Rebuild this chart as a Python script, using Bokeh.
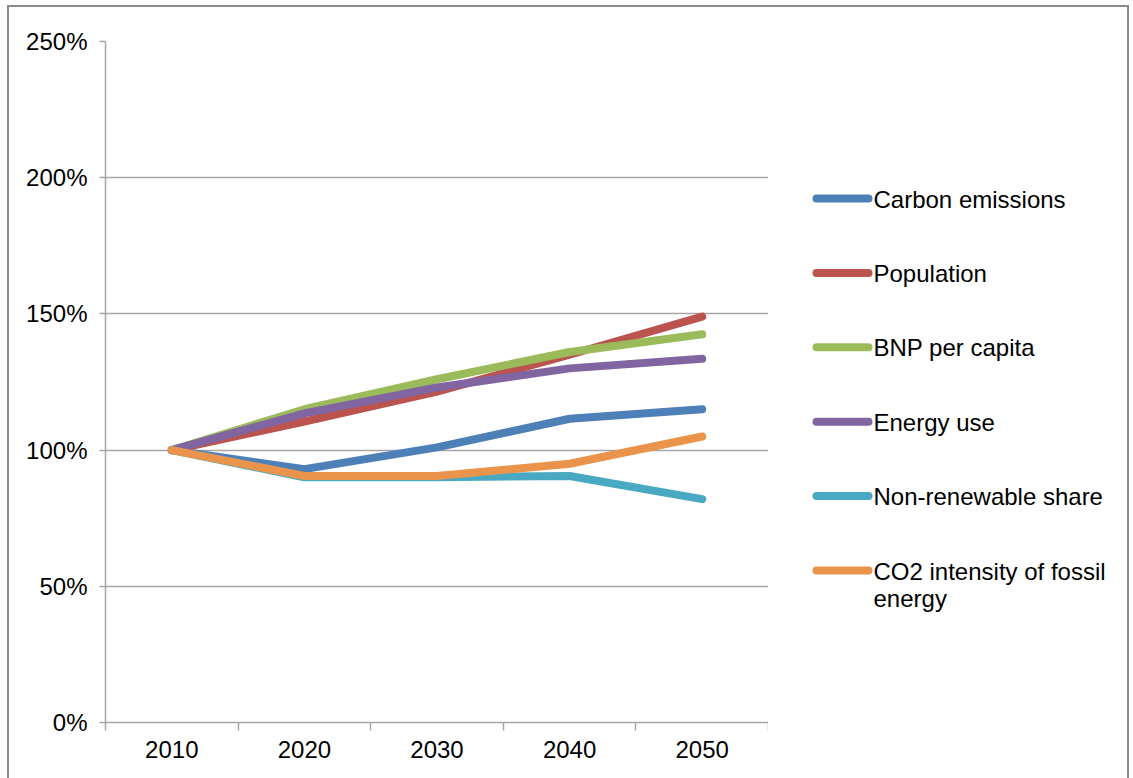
from bokeh.plotting import figure
from bokeh.layouts import row
from bokeh.core.properties import value
from bokeh.models import (FixedTicker, PrintfTickFormatter, Range1d,
                          InlineStyleSheet, ColumnDataSource)
from bokeh.embed import file_html
from bokeh.resources import INLINE

# Scenario indices relative to 2010 (percent)
years = ["2010", "2020", "2030", "2040", "2050"]
carbon_emissions = [100, 93, 101, 111.5, 115]
population = [100, 110.5, 121.5, 135, 149]
bnp_per_capita = [100, 115, 126, 136, 142.5]
energy_use = [100, 113.5, 123, 130, 133.5]
non_renewable_share = [100, 90, 90, 90.5, 82]
co2_intensity = [100, 90.5, 90.5, 95, 105]

series_names = ["Carbon emissions", "Population", "BNP per capita",
                "Energy use", "Non-renewable share",
                "CO2 intensity of fossil\nenergy"]
series_values = [carbon_emissions, population, bnp_per_capita,
                 energy_use, non_renewable_share, co2_intensity]
series_colors = ["#4e80b8", "#bb534f", "#9bba5a", "#8165a1", "#4aa9c2", "#e9944a"]

y_ticks = [0, 50, 100, 150, 200, 250]

FONT = "Liberation Sans"
GRID = "#a6a6a6"
W, H = 1133, 778
PLOT_W = 768
KEY_W = W - PLOT_W
TOP, BOTTOM = 41, 56

# categories sit at the middle of equal-width slots
xpos = [i + 0.5 for i in range(len(years))]

# thin grey frame around the whole chart
frame_css = InlineStyleSheet(css="""
:host::after {
  content: "";
  position: absolute;
  left: 7px; top: 5px;
  width: 1122px; height: 820px;
  border: 2px solid #8c8c8c;
  pointer-events: none;
  box-sizing: border-box;
}
""")

p = figure(width=PLOT_W, height=H, output_backend="svg", toolbar_location=None,
           x_range=Range1d(0, len(years)), y_range=Range1d(0, 250),
           min_border_left=105, min_border_right=0,
           min_border_top=TOP, min_border_bottom=BOTTOM)
p.outline_line_color = None
p.background_fill_color = "white"
p.border_fill_color = "white"

for vals, col in zip(series_values, series_colors):
    p.line(xpos, vals, line_color=col, line_width=8,
           line_cap="round", line_join="round")

# x axis: labels centred in slots, small ticks on slot boundaries
xa = p.xaxis[0]
xa.ticker = FixedTicker(ticks=xpos, minor_ticks=list(range(len(years) + 1)))
xa.major_label_overrides = {x: y for x, y in zip(xpos, years)}
xa.major_tick_line_color = None
xa.minor_tick_in = 0
xa.minor_tick_out = 8
xa.minor_tick_line_color = GRID
xa.minor_tick_line_width = 1.5
xa.axis_line_color = GRID
xa.axis_line_width = 1.5
xa.major_label_text_font = FONT
xa.major_label_text_font_size = "24px"
xa.major_label_text_color = "black"
xa.major_label_standoff = 10

ya = p.yaxis[0]
ya.ticker = FixedTicker(ticks=y_ticks)
ya.formatter = PrintfTickFormatter(format="%d%%")
ya.major_tick_in = 0
ya.major_tick_out = 6
ya.major_tick_line_color = GRID
ya.major_tick_line_width = 1.5
ya.minor_tick_line_color = None
ya.axis_line_color = GRID
ya.axis_line_width = 1.5
ya.major_label_text_font = FONT
ya.major_label_text_font_size = "24px"
ya.major_label_text_color = "black"
ya.major_label_standoff = 12

p.xgrid.grid_line_color = None
p.ygrid.ticker = FixedTicker(ticks=y_ticks)
p.ygrid.grid_line_color = GRID
p.ygrid.grid_line_width = 1.5

# key panel: frame matches the plot frame, y runs downward in pixels
key = figure(width=KEY_W, height=H, output_backend="svg", toolbar_location=None,
             x_range=Range1d(0, KEY_W), y_range=Range1d(H - BOTTOM, TOP),
             min_border_left=0, min_border_right=0,
             min_border_top=TOP, min_border_bottom=BOTTOM,
             x_axis_type=None, y_axis_type=None)
key.outline_line_color = None
key.xgrid.grid_line_color = None
key.ygrid.grid_line_color = None
key.background_fill_color = "white"
key.border_fill_color = "white"

row_y = [198 + 74.4 * i for i in range(len(series_names))]
sample_x0, sample_x1, text_x = 48, 100, 105
for name, col, yy in zip(series_names, series_colors, row_y):
    key.line([sample_x0, sample_x1], [yy, yy], line_color=col, line_width=8,
             line_cap="round")
src = ColumnDataSource(dict(x=[text_x] * len(series_names),
                            y=[yy - 13 for yy in row_y], t=series_names))
key.text("x", "y", text="t", source=src, text_font=value(FONT),
         text_font_size="24px", text_color="black",
         text_baseline="top", text_align="left", text_line_height=1.0)

layout = row(p, key, spacing=0, stylesheets=[frame_css])

open("out.html", "w").write(file_html(layout, INLINE))
